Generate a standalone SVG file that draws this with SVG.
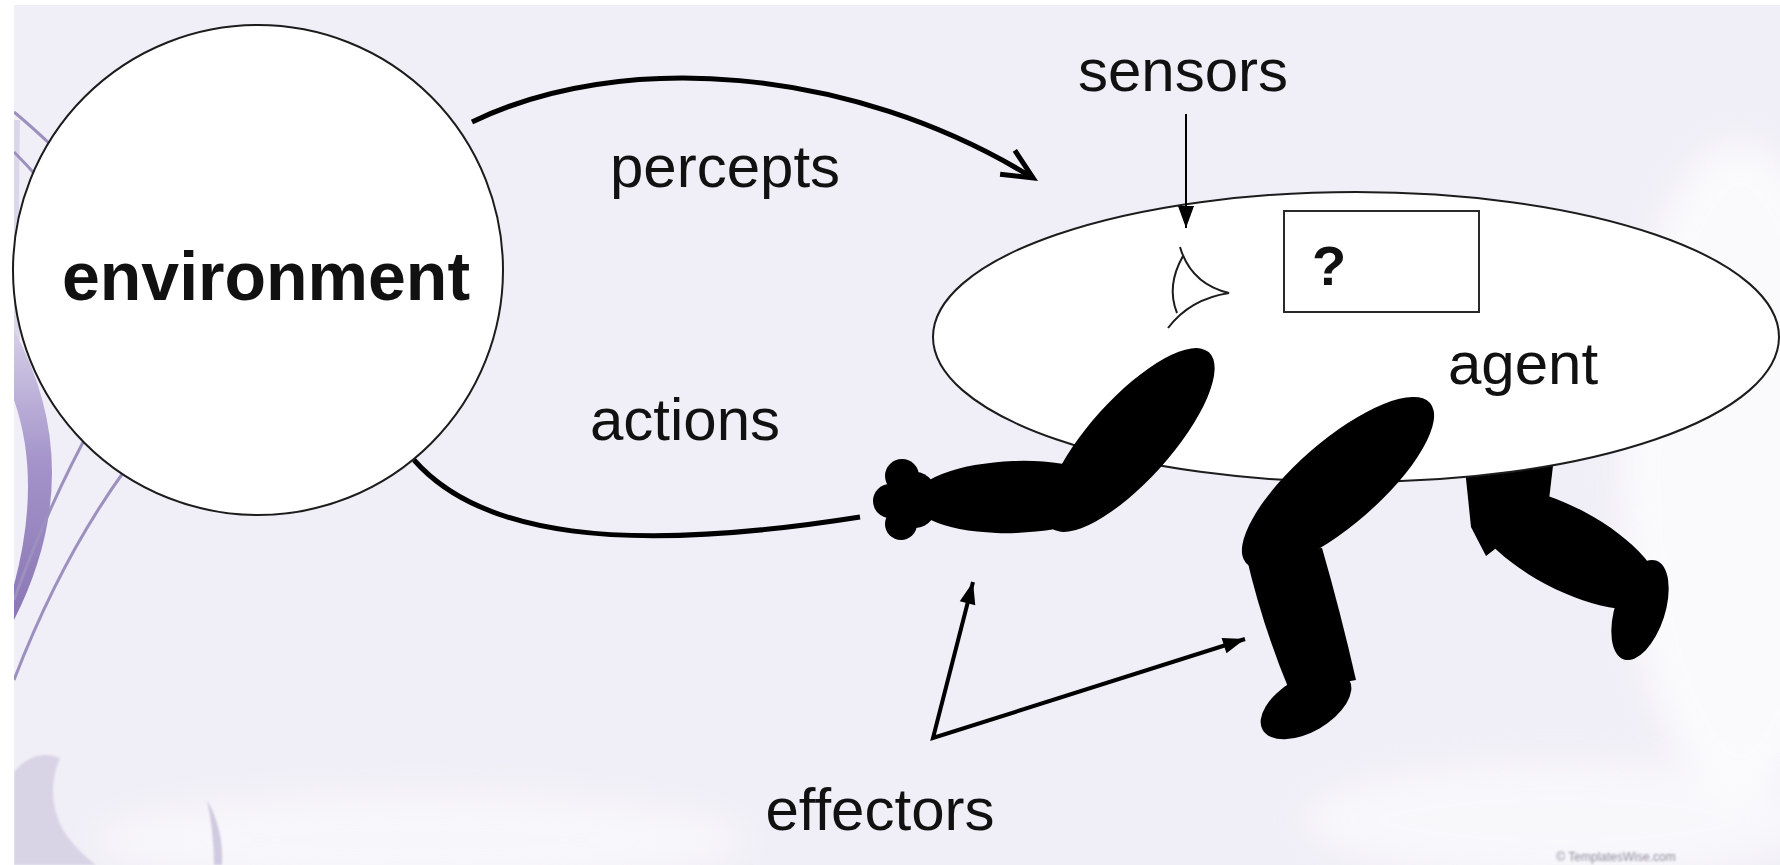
<svg xmlns="http://www.w3.org/2000/svg" width="1780" height="865" viewBox="0 0 1780 865">
  <defs>
    <style>
      .lbl{font-family:"Liberation Sans",Arial,sans-serif;font-size:60px;fill:#111;text-anchor:middle}
      .bold{font-weight:bold}
      .limb{fill:#000}
      .outline{fill:#fff;stroke:#1c1c1c;stroke-width:2}
      .conn{fill:none;stroke:#000;stroke-width:5}
      .ptr{fill:none;stroke:#000;stroke-width:4}
      .swoosh{fill:none;stroke:#9c90bf;stroke-width:3}
    </style>
    <clipPath id="page">
      <rect x="14" y="5" width="1766" height="860"/>
    </clipPath>
    <linearGradient id="bandGrad" x1="0" y1="330" x2="0" y2="620" gradientUnits="userSpaceOnUse">
      <stop offset="0" stop-color="#d6cfe8"/>
      <stop offset="0.45" stop-color="#a494ca"/>
      <stop offset="1" stop-color="#8a76b4"/>
    </linearGradient>
    <filter id="soft" x="-50%" y="-50%" width="200%" height="200%">
      <feGaussianBlur stdDeviation="18"/>
    </filter>
    <filter id="faint" x="-10%" y="-10%" width="120%" height="120%">
      <feGaussianBlur stdDeviation="1.2"/>
    </filter>
    <marker id="open" markerUnits="userSpaceOnUse" markerWidth="44" markerHeight="44" viewBox="-38 -22 44 44" refX="0" refY="0" orient="auto">
      <path d="M-30,-14 L0,0 L-30,14" fill="none" stroke="#000" stroke-width="5"/>
    </marker>
    <marker id="solid" markerUnits="userSpaceOnUse" markerWidth="30" markerHeight="24" viewBox="-26 -12 30 24" refX="0" refY="0" orient="auto-start-reverse">
      <path d="M0,0 L-22,-8 L-22,8 Z" fill="#000"/>
    </marker>
  </defs>

  <!-- page -->
  <rect x="0" y="0" width="1780" height="865" fill="#ffffff"/>
  <rect x="14" y="5" width="1766" height="860" fill="#f0eef6"/>

  <!-- soft background texture and the sweeping arcs on the left edge -->
  <g id="backdrop" clip-path="url(#page)">
    <ellipse cx="1740" cy="470" rx="120" ry="330" fill="#ffffff" opacity="0.7" filter="url(#soft)"/>
    <ellipse cx="1560" cy="820" rx="260" ry="60" fill="#ffffff" opacity="0.55" filter="url(#soft)"/>
    <ellipse cx="420" cy="840" rx="330" ry="50" fill="#ffffff" opacity="0.5" filter="url(#soft)"/>
    <path d="M14,772 Q34,748 60,758 Q44,795 64,832 Q78,852 96,865 L14,865 Z" fill="#d8d4e6" filter="url(#faint)"/>
    <path d="M207,800 Q224,830 222,865 L214,865 Q214,832 207,800 Z" fill="#cfcae0" filter="url(#faint)"/>
    <path d="M14,120 Q12,230 14,340" fill="none" stroke="#dcd6ea" stroke-width="12"/>
    <path d="M14,330 Q90,470 14,620 L14,585 Q42,480 14,400 Z" fill="url(#bandGrad)"/>
    <path d="M14,112 Q32,127 52,146" class="swoosh" stroke="#aaa3c6"/>
    <path d="M14,152 Q27,165 40,180" class="swoosh" stroke="#aaa3c6"/>
    <path d="M14,600 Q48,505 95,420" class="swoosh"/>
    <path d="M14,680 Q60,560 125,470" class="swoosh"/>
  </g>

  <!-- environment -->
  <g id="environment">
    <circle cx="258" cy="270" r="245" class="outline"/>
    <text x="266" y="300" class="lbl bold" style="font-size:68px">environment</text>
  </g>

  <!-- agent: back leg sits behind the body -->
  <g id="agent">
    <g id="back-leg" class="limb">
      <path d="M1462,440 L1556,440 L1549,500 L1530,522 L1486,556 L1471,527 Z"/>
      <ellipse cx="1565" cy="548" rx="105" ry="41" transform="rotate(28 1565 548)"/>
      <ellipse cx="1640" cy="610" rx="25" ry="52" transform="rotate(18 1640 610)"/>
    </g>
    <ellipse cx="1356" cy="337" rx="423" ry="145" class="outline"/>
    <g id="sensor-eye" fill="none" stroke="#1c1c1c" stroke-width="2">
      <path d="M1180,247 Q1191,284 1229,293 Q1190,299 1168,328"/>
      <path d="M1183,256 Q1166,286 1177,313"/>
    </g>
    <g id="decision-box">
      <rect x="1284" y="211" width="195" height="101" fill="#fff" stroke="#2a2a2a" stroke-width="2"/>
      <text x="1329" y="285" class="lbl bold" style="font-size:56px">?</text>
    </g>
    <text x="1523" y="384" class="lbl">agent</text>
    <g id="arm" class="limb">
      <ellipse cx="1130" cy="440" rx="118" ry="41" transform="rotate(-48 1130 440)"/>
      <ellipse cx="1015" cy="497" rx="102" ry="36" transform="rotate(-2 1015 497)"/>
      <ellipse cx="916" cy="500" rx="22" ry="28"/>
      <circle cx="902" cy="476" r="17"/>
      <circle cx="890" cy="501" r="17"/>
      <circle cx="901" cy="524" r="16"/>
    </g>
    <g id="front-leg" class="limb">
      <ellipse cx="1338" cy="483" rx="122" ry="42" transform="rotate(-41 1338 483)"/>
      <path d="M1246,555 L1322,548 Q1340,610 1356,680 L1290,692 Q1262,625 1246,555 Z"/>
      <ellipse cx="1306" cy="705" rx="50" ry="27" transform="rotate(-30 1306 705)"/>
    </g>
  </g>

  <!-- flows between environment and agent -->
  <g id="connectors">
    <path d="M472,122 C620,50 850,65 1033,178" class="conn" marker-end="url(#open)"/>
    <path d="M414,460 C480,535 620,555 860,517" class="conn"/>
    <path d="M1186,114 L1186,228" fill="none" stroke="#000" stroke-width="2" marker-end="url(#solid)"/>
    <path d="M973,582 L933,738 L1245,639" class="ptr" stroke-linejoin="miter" marker-start="url(#solid)" marker-end="url(#solid)"/>
  </g>

  <!-- labels -->
  <g id="labels">
    <text x="725" y="187" class="lbl">percepts</text>
    <text x="1183" y="91" class="lbl">sensors</text>
    <text x="685" y="440" class="lbl">actions</text>
    <text x="880" y="830" class="lbl">effectors</text>
    <text x="1616" y="861" style="font-family:'Liberation Sans',Arial,sans-serif;font-size:12px;fill:#8d8a99;text-anchor:middle" filter="url(#faint)">© TemplatesWise.com</text>
  </g>
</svg>
